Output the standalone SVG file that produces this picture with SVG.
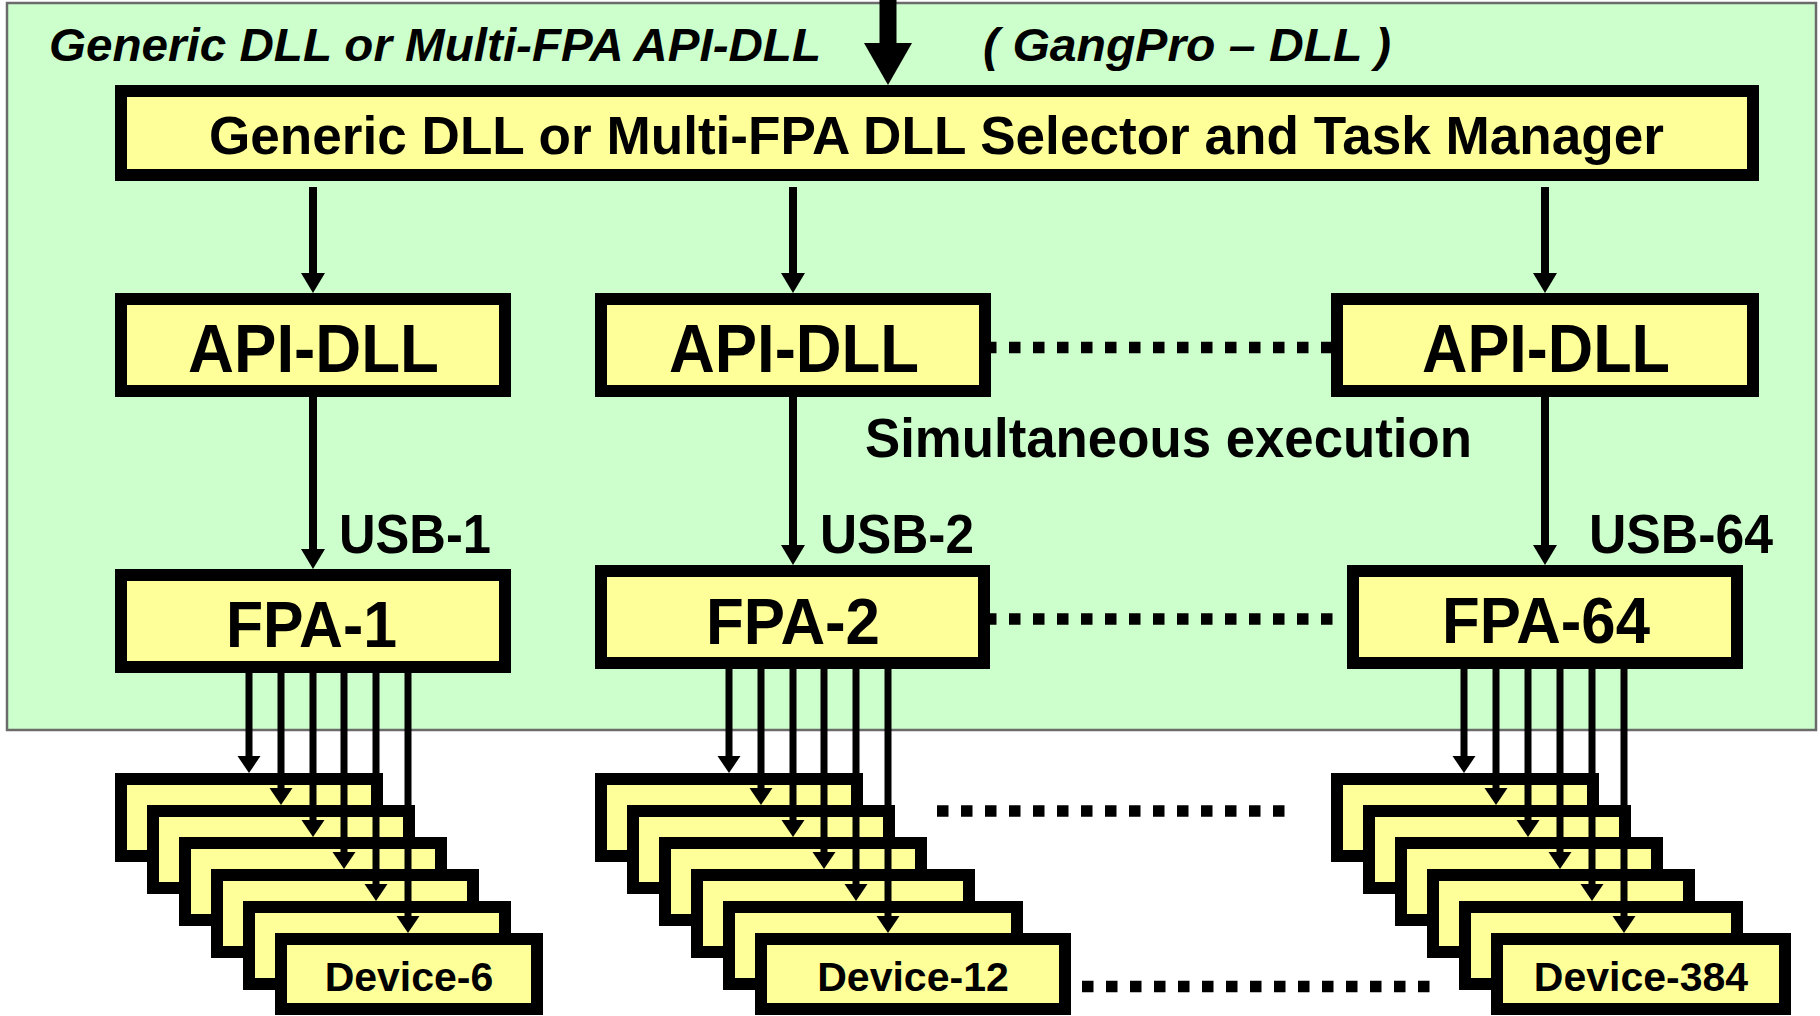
<svg xmlns="http://www.w3.org/2000/svg" width="1820" height="1016" viewBox="0 0 1820 1016">
<style>
.bg{fill:#CCFFCC;stroke:#6b6b6b;stroke-width:2.5}
.box{fill:#FFFF99;stroke:#000;stroke-width:12}
.t{font-family:'Liberation Sans',Arial,Helvetica,sans-serif;font-weight:bold;fill:#000}
.it{font-style:italic}
.l8{stroke:#000;stroke-width:8;fill:none}
.l7{stroke:#000;stroke-width:7;fill:none}
.dot{stroke:#000;stroke-width:11.5;stroke-dasharray:11.5 12.5;fill:none}
</style>
<defs>
<marker id="big" markerUnits="userSpaceOnUse" markerWidth="44" markerHeight="48" refX="0" refY="24" orient="auto" overflow="visible"><path d="M0,0 L42,24 L0,48 z" fill="#000"/></marker>
<marker id="mid" markerUnits="userSpaceOnUse" markerWidth="20" markerHeight="24" refX="0" refY="12" orient="auto" overflow="visible"><path d="M0,0 L20,12 L0,24 z" fill="#000"/></marker>
<marker id="sm" markerUnits="userSpaceOnUse" markerWidth="17" markerHeight="23" refX="0" refY="11.5" orient="auto" overflow="visible"><path d="M0,0 L17,11.5 L0,23 z" fill="#000"/></marker>
</defs>
<rect width="1820" height="1016" fill="#fff"/>
<g id="container">
<rect class="bg" x="7" y="3" width="1809" height="727"/>
<text class="t it" x="49" y="61" font-size="46" textLength="772" lengthAdjust="spacingAndGlyphs">Generic DLL or Multi-FPA API-DLL</text>
<text class="t it" x="983" y="61" font-size="46" textLength="408" lengthAdjust="spacingAndGlyphs">( GangPro – DLL )</text>
</g>
<g id="manager">
<rect class="box" x="121" y="91" width="1632" height="84"/>
<text class="t" x="209" y="154" font-size="53" textLength="1455" lengthAdjust="spacingAndGlyphs">Generic DLL or Multi-FPA DLL Selector and Task Manager</text>
</g>
<g id="api1"><rect class="box" x="121" y="299" width="384" height="92"/><text class="t" x="188" y="372" font-size="68" textLength="251" lengthAdjust="spacingAndGlyphs">API-DLL</text></g>
<g id="api2"><rect class="box" x="601" y="299" width="384" height="92"/><text class="t" x="669" y="372" font-size="68" textLength="250" lengthAdjust="spacingAndGlyphs">API-DLL</text></g>
<g id="api64"><rect class="box" x="1337" y="299" width="416" height="92"/><text class="t" x="1422" y="372" font-size="68" textLength="248" lengthAdjust="spacingAndGlyphs">API-DLL</text></g>
<g id="fpa1"><rect class="box" x="121" y="575" width="384" height="92"/><text class="t" x="226" y="647" font-size="64" textLength="171" lengthAdjust="spacingAndGlyphs">FPA-1</text></g>
<g id="fpa2"><rect class="box" x="601" y="571" width="383" height="92"/><text class="t" x="706" y="644" font-size="64" textLength="174" lengthAdjust="spacingAndGlyphs">FPA-2</text></g>
<g id="fpa64"><rect class="box" x="1353" y="571" width="384" height="92"/><text class="t" x="1442" y="643" font-size="64" textLength="208" lengthAdjust="spacingAndGlyphs">FPA-64</text></g>
<g id="labels">
<text class="t" x="339" y="553" font-size="55" textLength="152" lengthAdjust="spacingAndGlyphs">USB-1</text>
<text class="t" x="820" y="553" font-size="55" textLength="154" lengthAdjust="spacingAndGlyphs">USB-2</text>
<text class="t" x="1589" y="553" font-size="55" textLength="184" lengthAdjust="spacingAndGlyphs">USB-64</text>
<text class="t" x="865" y="457" font-size="56" textLength="607" lengthAdjust="spacingAndGlyphs">Simultaneous execution</text>
</g>
<g id="devices1">
<rect class="box" x="121" y="779" width="256" height="77"/>
<rect class="box" x="153" y="811" width="256" height="77"/>
<rect class="box" x="185" y="843" width="256" height="77"/>
<rect class="box" x="217" y="875" width="256" height="77"/>
<rect class="box" x="249" y="907" width="256" height="77"/>
<rect class="box" x="281" y="939" width="256" height="70"/>
<text class="t" x="409" y="991" font-size="41" text-anchor="middle">Device-6</text>
</g>
<g id="devices2">
<rect class="box" x="601" y="779" width="256" height="77"/>
<rect class="box" x="633" y="811" width="256" height="77"/>
<rect class="box" x="665" y="843" width="256" height="77"/>
<rect class="box" x="697" y="875" width="272" height="77"/>
<rect class="box" x="729" y="907" width="288" height="77"/>
<rect class="box" x="761" y="939" width="304" height="70"/>
<text class="t" x="913" y="991" font-size="41" text-anchor="middle">Device-12</text>
</g>
<g id="devices3">
<rect class="box" x="1337" y="779" width="256" height="77"/>
<rect class="box" x="1369" y="811" width="256" height="77"/>
<rect class="box" x="1401" y="843" width="256" height="77"/>
<rect class="box" x="1433" y="875" width="256" height="77"/>
<rect class="box" x="1465" y="907" width="272" height="77"/>
<rect class="box" x="1497" y="939" width="288" height="70"/>
<text class="t" x="1641" y="991" font-size="41" text-anchor="middle">Device-384</text>
</g>
<g id="connectors">
<line x1="888" y1="0" x2="888" y2="43" stroke="#000" stroke-width="17" marker-end="url(#big)"/>
<line class="l8" x1="313" y1="187" x2="313" y2="273" marker-end="url(#mid)"/>
<line class="l8" x1="793" y1="187" x2="793" y2="273" marker-end="url(#mid)"/>
<line class="l8" x1="1545" y1="187" x2="1545" y2="273" marker-end="url(#mid)"/>
<line class="l8" x1="313" y1="397" x2="313" y2="549" marker-end="url(#mid)"/>
<line class="l8" x1="793" y1="397" x2="793" y2="545" marker-end="url(#mid)"/>
<line class="l8" x1="1545" y1="397" x2="1545" y2="545" marker-end="url(#mid)"/>
<line class="dot" x1="985" y1="347.5" x2="1332" y2="347.5"/>
<line class="dot" x1="985" y1="619" x2="1333" y2="619"/>
<line class="dot" x1="937" y1="811" x2="1285" y2="811"/>
<line class="dot" x1="1082" y1="986.5" x2="1430" y2="986.5"/>
<line class="l7" x1="249" y1="667" x2="249" y2="756" marker-end="url(#sm)"/>
<line class="l7" x1="281" y1="667" x2="281" y2="788" marker-end="url(#sm)"/>
<line class="l7" x1="313" y1="667" x2="313" y2="820" marker-end="url(#sm)"/>
<line class="l7" x1="344" y1="667" x2="344" y2="852" marker-end="url(#sm)"/>
<line class="l7" x1="376" y1="667" x2="376" y2="884" marker-end="url(#sm)"/>
<line class="l7" x1="408" y1="667" x2="408" y2="916" marker-end="url(#sm)"/>
<line class="l7" x1="729" y1="663" x2="729" y2="756" marker-end="url(#sm)"/>
<line class="l7" x1="761" y1="663" x2="761" y2="788" marker-end="url(#sm)"/>
<line class="l7" x1="793" y1="663" x2="793" y2="820" marker-end="url(#sm)"/>
<line class="l7" x1="824" y1="663" x2="824" y2="852" marker-end="url(#sm)"/>
<line class="l7" x1="856" y1="663" x2="856" y2="884" marker-end="url(#sm)"/>
<line class="l7" x1="888" y1="663" x2="888" y2="916" marker-end="url(#sm)"/>
<line class="l7" x1="1464" y1="663" x2="1464" y2="756" marker-end="url(#sm)"/>
<line class="l7" x1="1496" y1="663" x2="1496" y2="788" marker-end="url(#sm)"/>
<line class="l7" x1="1528" y1="663" x2="1528" y2="820" marker-end="url(#sm)"/>
<line class="l7" x1="1560" y1="663" x2="1560" y2="852" marker-end="url(#sm)"/>
<line class="l7" x1="1592" y1="663" x2="1592" y2="884" marker-end="url(#sm)"/>
<line class="l7" x1="1624" y1="663" x2="1624" y2="916" marker-end="url(#sm)"/>
</g>
</svg>
